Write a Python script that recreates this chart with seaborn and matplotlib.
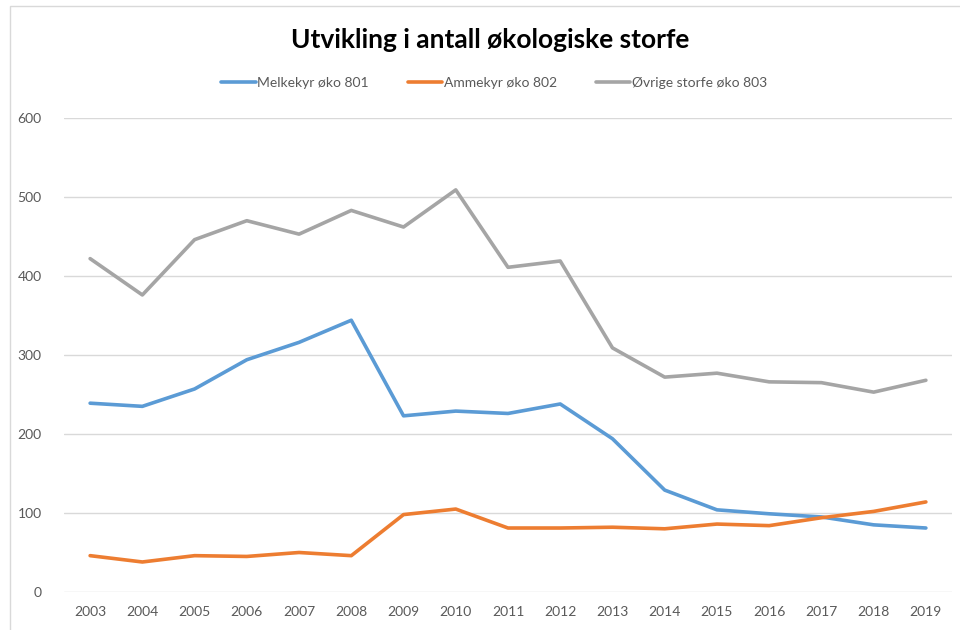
import matplotlib
matplotlib.use("Agg")
import matplotlib.pyplot as plt
import seaborn as sns
import pandas as pd
from matplotlib.patches import Rectangle

years = [2003, 2004, 2005, 2006, 2007, 2008, 2009, 2010, 2011, 2012, 2013, 2014, 2015, 2016, 2017, 2018, 2019]
melkekyr = [239, 235, 257, 294, 316, 344, 223, 229, 226, 238, 194, 129, 104, 99, 95, 85, 81]
ammekyr = [46, 38, 46, 45, 50, 46, 98, 105, 81, 81, 82, 80, 86, 84, 94, 102, 114]
ovrige = [422, 376, 446, 470, 453, 483, 462, 509, 411, 419, 309, 272, 277, 266, 265, 253, 268]
series_names = ["Melkekyr øko 801", "Ammekyr øko 802", "Øvrige storfe øko 803"]
colors = ["#5B9BD5", "#ED7D31", "#A5A5A5"]
yticks = [0, 100, 200, 300, 400, 500, 600]

sns.set_theme(style="white")
plt.rcParams['font.family'] = ['Lato', 'DejaVu Sans']

rows = []
for name, vals in zip(series_names, [melkekyr, ammekyr, ovrige]):
    for i, (yr, v) in enumerate(zip(years, vals)):
        rows.append({"idx": i, "year": str(yr), "value": v, "series": name})
df = pd.DataFrame(rows)

fig = plt.figure(figsize=(9.6, 6.3), dpi=100)
# chart-area border (Excel style)
fig.patches.append(Rectangle((10/960, -0.05), 1.0, 1 - 6/630 + 0.05,
                             transform=fig.transFigure, fill=False,
                             edgecolor="#D9D9D9", linewidth=1))

ax = fig.add_axes([64/960, 38/630, (952-64)/960, (592-118)/630])

sns.lineplot(data=df, x="idx", y="value", hue="series", palette=colors,
             hue_order=series_names, linewidth=2.6, ax=ax, legend=True,
             solid_capstyle="round")

ax.set_xlim(-0.5, len(years) - 0.5)
ax.set_ylim(0, 600)
ax.set_yticks(yticks)
ax.set_xticks(range(len(years)))
ax.set_xticklabels([str(y) for y in years])
ax.set_xlabel("")
ax.set_ylabel("")
ax.grid(axis="y", color="#D9D9D9", linewidth=1)
ax.set_axisbelow(True)
for s in ax.spines.values():
    s.set_visible(False)
ax.tick_params(axis="both", length=0, labelsize=10, colors="#595959")
ax.tick_params(axis="x", pad=10)
ax.tick_params(axis="y", pad=16)

handles, labels = ax.get_legend_handles_labels()
ax.legend(handles, labels, ncol=3, frameon=False, loc="center",
          bbox_to_anchor=(494/960, 1 - 83/630), bbox_transform=fig.transFigure,
          fontsize=10, handlelength=2.5, handletextpad=0.1, columnspacing=2.8,
          labelcolor="#595959")

fig.text(490/960, 1 - 40/630, "Utvikling i antall økologiske storfe", ha="center", va="center",
         fontsize=19, fontweight="bold", color="#000000")

fig.savefig("out.png", dpi=100)
